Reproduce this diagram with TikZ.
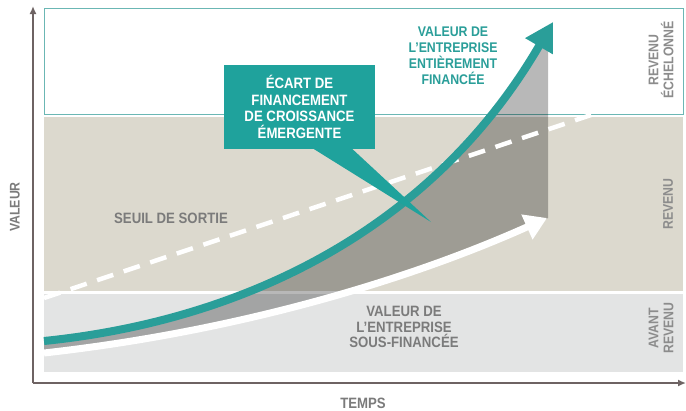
\documentclass[tikz,border=0pt]{standalone}
\usepackage{fontspec}
\setmainfont{Liberation Sans}[FakeStretch=0.88]
\usetikzlibrary{arrows.meta,fadings}
\definecolor{tealline}{HTML}{2A9E99}
\definecolor{tealbox}{HTML}{1FA29C}
\definecolor{beige}{HTML}{DCD9CE}
\definecolor{lgray}{HTML}{E3E4E4}
\definecolor{txtgray}{HTML}{7B7B7B}
\definecolor{lbgray}{HTML}{8C8C8C}
\definecolor{axiscol}{HTML}{6E6363}
\definecolor{bordert}{HTML}{6BB7B4}
\begin{tikzfadingfrompicture}[name=grayfade]
\shade[left color=transparent!100, right color=transparent!0] (0,0) rectangle (3.5,10);
\fill[transparent!0] (3.5,0) rectangle (10,10);
\end{tikzfadingfrompicture}
\begin{document}
\begin{tikzpicture}[x=1pt,y=-1pt,
  lbl/.style={font=\bfseries\fontsize{15}{15.5}\selectfont, text=txtgray, align=center, inner sep=0pt},
  sidelbl/.style={font=\bfseries\fontsize{14}{15}\selectfont, text=lbgray, align=center, inner sep=0pt, rotate=90},
  tealtxt/.style={font=\bfseries\fontsize{14}{16}\selectfont, text=tealline, align=center, inner sep=0pt},
  boxtxt/.style={font=\bfseries\fontsize{15}{16.7}\selectfont, text=white, align=center, fill=tealbox, minimum width=151pt, minimum height=84pt, inner sep=0pt},
  axisline/.style={axiscol, line width=2pt},
  bigarrow/.style={line width=8pt},
]
\useasboundingbox (0,0) rectangle (686,410);
\fill[white] (0,0) rectangle (686,410);

% bands
\fill[lgray] (44,294) rectangle (683,372);
\fill[beige] (44,117) rectangle (683,291);
\draw[bordert, line width=0.8pt] (44,8) rectangle (683,114);

% coordinates
\coordinate (t0) at (44,341);
\coordinate (t1) at (553,22);
\coordinate (w0) at (44,353);
\coordinate (w1) at (547,218);
\coordinate (ds) at (44,298);
\coordinate (de) at (600,112);
\coordinate (o) at (33,383);
\coordinate (ytop) at (33,6);
\coordinate (xend) at (686,383);
\coordinate (tip) at (431,222);

% gray gap area
\fill[black, opacity=0.28, path fading=grayfade, fit fading=true]
  (t0) .. controls (250,320) and (435,225) .. (t1) -- (548,30) -- (548,218)
  .. controls (420,275) and (250,330) .. (w0) -- cycle;

% exit threshold dashed line
\draw[white, line width=4.5pt, dash pattern=on 17pt off 11pt] (ds) -- (de);

% under-funded curve
\draw[white, line width=7pt, -{Triangle[length=22pt,width=26pt]}]
  (w0) .. controls (250,330) and (420,275) .. (w1);

% fully-funded curve
\draw[tealline, bigarrow, -{Triangle[length=28pt,width=30pt]}]
  (t0) .. controls (250,320) and (435,225) .. (t1);

% callout
\node[boxtxt] (callout) at (299.5,107) {ÉCART DE\\FINANCEMENT\\DE CROISSANCE\\ÉMERGENTE};
\fill[tealbox] ([xshift=13pt,yshift=1pt]callout.south) -- (tip) -- ([xshift=52pt,yshift=1pt]callout.south) -- cycle;

% texts
\node[tealtxt] (full) at (453,56) {VALEUR DE\\L’ENTREPRISE\\ENTIÈREMENT\\FINANCÉE};
\node[lbl] (under) at (404,327) {VALEUR DE\\L’ENTREPRISE\\SOUS-FINANCÉE};
\node[lbl] (seuil) at (171,218) {SEUIL DE SORTIE};
\node[lbl, rotate=90, font=\bfseries\fontsize{14}{15}\selectfont] (valeur) at (15,207) {VALEUR};
\node[lbl] (temps) at (363,403) {TEMPS};
\node[sidelbl] (rech) at (661,60) {REVENU\\ÉCHELONNÉ};
\node[sidelbl] (rev) at (668,204) {REVENU};
\node[sidelbl] (avant) at (661,328) {AVANT\\REVENU};

% axes
\draw[axisline, -{Latex[length=8pt,width=7pt]}] (o) -- (ytop);
\draw[axisline, -{Latex[length=8pt,width=7pt]}] (o) -- (xend);
\end{tikzpicture}
\end{document}
